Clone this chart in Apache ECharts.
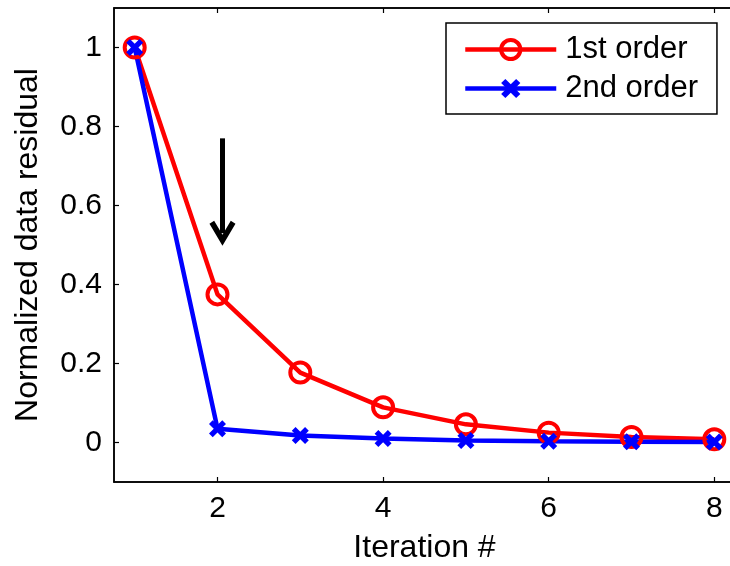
<!DOCTYPE html>
<html>
<head>
<meta charset="utf-8">
<script src="https://cdn.jsdelivr.net/npm/echarts@6/dist/echarts.min.js"></script>
<style>
  html, body { margin: 0; padding: 0; background: #fff; }
  #chart { width: 730px; height: 566px; }
</style>
</head>
<body>
<div id="chart"></div>
<script>
// values
const iterations = [1, 2, 3, 4, 5, 6, 7, 8];
const firstOrder = [1, 0.375, 0.177, 0.089, 0.046, 0.025, 0.014, 0.008];
const secondOrder = [1, 0.035, 0.018, 0.010, 0.005, 0.003, 0.002, 0.001];
const xTicks = [2, 4, 6, 8];
const yTicks = [0, 0.2, 0.4, 0.6, 0.8, 1];
// annotation arrow (data coords)
const arrowX = 2.06;
const arrowFrom = 0.77;
const arrowTo = 0.53;

const FONT = 'Liberation Sans';
const crossPath = 'path://M0,2.2 L2.2,0 L5,2.8 L7.8,0 L10,2.2 L7.2,5 L10,7.8 L7.8,10 L5,7.2 L2.2,10 L0,7.8 L2.8,5 Z';
const chevronPath = 'path://M5,0 L10,8.4 L8.2,9.6 L5,4.2 L1.8,9.6 L0,8.4 Z';

function pairs(ys) {
    let list = [];
    for (let i = 0; i < iterations.length; i++) {
        list.push([iterations[i], ys[i]]);
    }
    return list;
}

let chart = echarts.init(document.getElementById('chart'));

const tickStyle = {inside: true, length: 5, lineStyle: {color: '#000', width: 1.2}};
const axisLineStyle = {show: true, onZero: false, lineStyle: {color: '#000', width: 1.5}};

chart.setOption({
    animation: false,
    textStyle: {fontFamily: FONT},
    grid: {
        left: 114,
        top: 8,
        width: 621,
        height: 474,
        outerBoundsMode: 'none',
        containLabel: false,
        show: true,
        borderColor: '#000',
        borderWidth: 1.5
    },
    legend: {
        orient: 'vertical',
        left: 446,
        top: 23,
        padding: [11, 19, 10, 17],
        itemWidth: 91,
        itemHeight: 24,
        itemGap: 8,
        borderColor: '#000',
        borderWidth: 1.5,
        backgroundColor: '#fff',
        lineStyle: {width: 4.5},
        textStyle: {fontSize: 31, color: '#000', fontFamily: FONT, padding: [0, 0, 0, 4]},
        data: [
            {name: '1st order', itemStyle: {borderWidth: 4}},
            {name: '2nd order'}
        ]
    },
    xAxis: [
        {
            type: 'value',
            min: 0.75,
            max: 8.25,
            name: 'Iteration #',
            nameLocation: 'middle',
            nameGap: 50,
            nameTextStyle: {fontSize: 32, color: '#000', fontFamily: FONT},
            axisLine: axisLineStyle,
            axisTick: Object.assign({customValues: xTicks}, tickStyle),
            axisLabel: {customValues: xTicks, fontSize: 30, color: '#000', margin: 12, fontFamily: FONT},
            splitLine: {show: false}
        },
        {
            type: 'value',
            position: 'top',
            min: 0.75,
            max: 8.25,
            axisLine: axisLineStyle,
            axisTick: Object.assign({customValues: xTicks}, tickStyle),
            axisLabel: {show: false},
            splitLine: {show: false}
        }
    ],
    yAxis: [
        {
            type: 'value',
            min: -0.1,
            max: 1.1,
            name: 'Normalized data residual',
            nameLocation: 'middle',
            nameGap: 70,
            nameTextStyle: {fontSize: 32, color: '#000', fontFamily: FONT},
            axisLine: axisLineStyle,
            axisTick: Object.assign({customValues: yTicks}, tickStyle),
            axisLabel: {customValues: yTicks, fontSize: 30, color: '#000', margin: 12, fontFamily: FONT},
            splitLine: {show: false}
        },
        {
            type: 'value',
            position: 'right',
            min: -0.1,
            max: 1.1,
            axisLine: axisLineStyle,
            axisTick: Object.assign({customValues: yTicks}, tickStyle),
            axisLabel: {show: false},
            splitLine: {show: false}
        }
    ],
    series: [
        {
            name: '1st order',
            type: 'line',
            data: pairs(firstOrder),
            symbol: 'circle',
            symbolSize: 20,
            lineStyle: {color: '#ff0000', width: 4.5},
            itemStyle: {color: 'rgba(255,255,255,0)', borderColor: '#ff0000', borderWidth: 4}
        },
        {
            name: '2nd order',
            type: 'line',
            data: pairs(secondOrder),
            symbol: crossPath,
            symbolSize: 17,
            lineStyle: {color: '#0000ff', width: 4.5},
            itemStyle: {color: '#0000ff'},
            markLine: {
                silent: true,
                symbol: ['none', chevronPath],
                symbolSize: [26, 25],
                label: {show: false},
                lineStyle: {color: '#000', width: 5, type: 'solid'},
                data: [[{coord: [arrowX, arrowFrom]}, {coord: [arrowX, arrowTo]}]]
            }
        }
    ]
});
</script>
</body>
</html>
